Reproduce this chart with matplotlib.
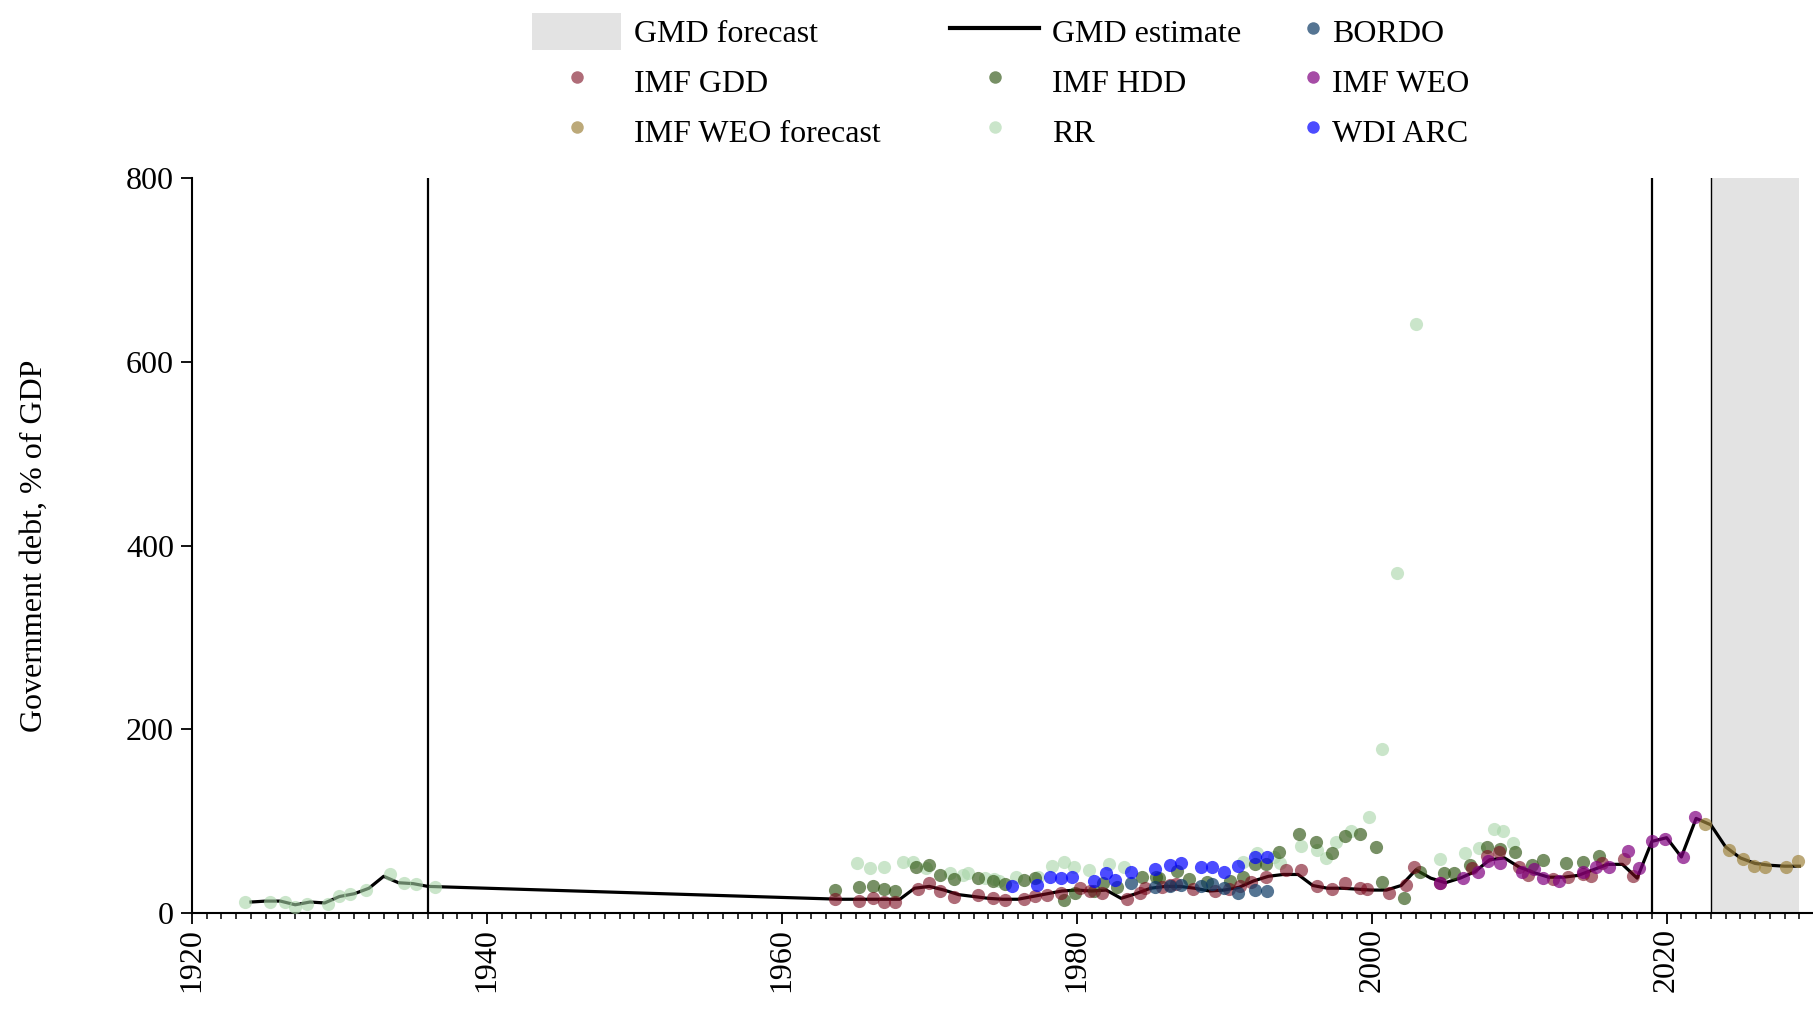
import matplotlib
matplotlib.use("Agg")
import matplotlib.pyplot as plt
from matplotlib.ticker import MultipleLocator
from matplotlib.patches import Patch
from matplotlib.lines import Line2D

plt.rcParams['font.family'] = ['Liberation Serif', 'DejaVu Serif']

# GMD estimate (line)
gmd_years = list(range(1924, 1937)) + list(range(1964, 2030))
gmd_vals = [12, 13, 13, 9, 12, 11, 18, 21, 27, 40, 33, 32, 29,
            15, 15, 15, 15, 15, 27, 29, 25, 20, 18, 16, 15, 15, 18, 21, 24,
            25, 24, 25, 16, 21, 27, 29, 29, 27, 24, 25, 28, 35, 40, 42, 42,
            30, 27, 27, 26, 25, 25, 30, 47, 38, 33, 38, 45, 58, 60, 50, 44,
            39, 39, 41, 47, 53, 53, 38, 78, 82, 61, 103, 96, 72, 60, 54, 52,
            51, 51]

# source points (x positions)
rr_x = [1923.6, 1925.3, 1926.3, 1927.0, 1927.8, 1929.2, 1930.0, 1930.7, 1931.8,
        1933.4, 1934.4, 1935.2, 1936.5,
        1965.1, 1966.0, 1966.9, 1968.2, 1968.9, 1969.8, 1971.4, 1972.3, 1972.6,
        1973.8, 1974.4, 1974.7, 1975.9, 1977.4, 1978.3, 1979.1, 1979.8, 1980.8,
        1982.2, 1983.2, 1991.3, 1992.2, 1993.4, 1993.8, 1995.2, 1996.3, 1996.9,
        1997.6, 1998.6, 1999.8, 2000.7, 2001.7, 2003.0, 2004.6, 2006.3, 2007.3,
        2008.3, 2008.9, 2009.6]
rr_v = [11.6, 12.3, 12.3, 6.9, 9.4, 9.4, 18.9, 20.3, 25, 42.4, 32.3, 31.2, 28,
        54.4, 48.6, 49.7, 55.5, 55.5, 48.6, 43.9, 41.3, 43.1, 37.7, 36.6, 35.2,
        39.5, 39.5, 51.1, 55.8, 50.4, 46.8, 52.9, 49.7, 55.8, 64.9, 61.3, 54.0,
        72.9, 68.5, 59.5, 77.7, 89.6, 104.2, 178.2, 370.4, 640.7, 58.5, 65.0,
        70.4, 91.5, 89.3, 75.9]

hdd_x = [1963.6, 1965.2, 1966.2, 1966.9, 1967.7, 1969.1, 1970.0, 1970.7, 1971.7,
         1973.3, 1974.3, 1975.1, 1976.4, 1977.2, 1979.1, 1979.9, 1981.2, 1981.8,
         1982.7, 1984.4, 1985.4, 1985.6, 1986.8, 1987.6, 1988.8, 1990.4, 1991.3,
         1992.1, 1992.8, 1993.7, 1995.1, 1996.2, 1997.3, 1998.2, 1999.2, 2000.3,
         2000.7, 2002.2, 2003.3, 2004.9, 2005.6, 2006.7, 2007.8, 2008.7, 2009.7,
         2010.9, 2011.6, 2013.2, 2014.3, 2015.4]
hdd_v = [24.6, 28.3, 29.7, 25.7, 24.3, 49.7, 52.6, 41.3, 36.6, 37.7, 35.2, 31.5,
         35.9, 37.7, 14.1, 21.4, 24.3, 32.3, 28.6, 38.8, 39.5, 38.1, 45.7, 36.6,
         34.1, 35.2, 39.5, 53.3, 53.3, 66.7, 86.0, 77.0, 65.0, 83.8, 86.0, 71.9,
         34.1, 16.0, 45.0, 43.9, 43.2, 52.3, 71.5, 69.7, 66.1, 51.9, 57.7, 54.1,
         55.9, 62.0]

gdd_x = [1963.6, 1965.2, 1966.2, 1966.9, 1967.7, 1969.2, 1970.0, 1970.7, 1971.7,
         1973.3, 1974.3, 1975.1, 1976.4, 1977.2, 1978.0, 1978.9, 1980.2, 1980.9,
         1981.7, 1983.4, 1984.3, 1984.6, 1985.8, 1986.3, 1986.7, 1987.9, 1989.4,
         1990.3, 1991.1, 1991.8, 1992.8, 1994.2, 1995.2, 1996.3, 1997.3, 1998.2,
         1999.2, 1999.7, 2001.2, 2002.3, 2002.9, 2004.6, 2006.8, 2007.8, 2008.6,
         2010.0, 2010.6, 2012.3, 2013.3, 2014.3, 2014.9, 2015.6, 2017.1, 2017.7]
gdd_v = [14.8, 13.0, 16.3, 11.9, 11.9, 26.1, 33.0, 23.6, 17.4, 19.2, 16.7, 13.8,
         14.8, 18.1, 19.6, 21.4, 26.8, 23.9, 21.4, 14.8, 21.4, 26.8, 28.6, 30.1,
         31.5, 25.7, 23.6, 25.7, 29.4, 33.7, 39.5, 46.8, 46.8, 29.4, 25.8, 32.3,
         27.6, 25.8, 21.4, 30.5, 50.5, 32.3, 48.7, 62.1, 66.1, 50.5, 41.4, 36.7,
         39.5, 42.5, 40.3, 54.1, 58.4, 40.3]

bordo_x = [1983.7, 1985.3, 1986.3, 1987.1, 1988.4, 1989.2, 1990.0, 1990.9, 1992.1, 1992.9]
bordo_v = [33.0, 28.6, 29.4, 30.0, 29.4, 31.5, 26.8, 22.1, 25.0, 23.9]

wdi_x = [1975.6, 1977.3, 1978.2, 1978.9, 1979.7, 1981.2, 1982.0, 1982.6, 1983.7,
         1985.3, 1986.3, 1987.1, 1988.4, 1989.2, 1990.0, 1990.9, 1992.1, 1992.9]
wdi_v = [29.4, 30.5, 39.5, 37.7, 38.8, 35.2, 43.1, 35.9, 44.2, 48.2, 51.9, 54.0,
         50.4, 49.7, 44.6, 51.1, 61.3, 61.3]

weo_x = [2004.6, 2006.2, 2007.2, 2007.9, 2008.7, 2010.2, 2011.0, 2011.6, 2012.7,
         2014.3, 2015.2, 2016.1, 2017.4, 2018.1, 2019.0, 2019.9, 2021.1, 2021.9]
weo_v = [32.3, 37.8, 45.0, 57.0, 54.8, 45.0, 47.9, 37.8, 34.9, 45.0, 50.4, 49.7,
         67.8, 48.6, 78.7, 80.5, 61.3, 104.9]

weof_x = [2022.6, 2024.2, 2025.2, 2025.9, 2026.7, 2028.1, 2028.9]
weof_v = [96.9, 68.6, 58.8, 51.2, 49.7, 50.4, 56.6]

c_gdd = '#7a0a1e'
c_hdd = '#2f5512'
c_rr = '#a8d5a8'
c_bordo = '#0d3b66'
c_wdi = '#0000ff'
c_weo = '#800080'
c_weof = '#a08540'

fig = plt.figure(figsize=(18.13, 10.18), dpi=100)
ax = fig.add_axes([0.1059, 0.1031, 0.8947, 0.7220])

ax.axvspan(2023, 2029, color='#e3e3e3', lw=0, zorder=0)
ax.axvline(1936, color='black', lw=1.6, zorder=1)
ax.axvline(2019, color='black', lw=1.6, zorder=1)
ax.axvline(2023, color='black', lw=1.0, zorder=1)

ax.plot(gmd_years, gmd_vals, color='black', lw=2.3, zorder=2)

s = 90
ax.scatter(rr_x, rr_v, s=s, color=c_rr, alpha=0.6, lw=0, zorder=3)
ax.scatter(hdd_x, hdd_v, s=s, color=c_hdd, alpha=0.65, lw=0, zorder=3)
ax.scatter(gdd_x, gdd_v, s=s, color=c_gdd, alpha=0.6, lw=0, zorder=3)
ax.scatter(bordo_x, bordo_v, s=s, color=c_bordo, alpha=0.7, lw=0, zorder=3)
ax.scatter(wdi_x, wdi_v, s=s, color=c_wdi, alpha=0.7, lw=0, zorder=3)
ax.scatter(weo_x, weo_v, s=s, color=c_weo, alpha=0.7, lw=0, zorder=3)
ax.scatter(weof_x, weof_v, s=s, color=c_weof, alpha=0.7, lw=0, zorder=3)

ax.set_xlim(1920, 2030)
ax.set_ylim(0, 800)
ax.set_yticks([0, 200, 400, 600, 800])
ax.set_xticks(range(1920, 2021, 20))
ax.xaxis.set_minor_locator(MultipleLocator(1))
ax.tick_params(axis='both', which='major', labelsize=23, length=8, width=1.3, direction='out')
ax.tick_params(axis='x', which='minor', length=4, width=1.1)
ax.tick_params(axis='x', labelrotation=90, pad=3)
ax.tick_params(axis='y', pad=5)
for side in ['top', 'right']:
    ax.spines[side].set_visible(False)
for side in ['left', 'bottom']:
    ax.spines[side].set_linewidth(1.5)

ax.set_ylabel('Government debt, % of GDP', fontsize=23)
ax.yaxis.set_label_coords(-0.088, 0.5)


def dot(color, alpha):
    return Line2D([], [], marker='o', ls='', markersize=9, markeredgewidth=0,
                  color=color, alpha=alpha)


leg_kw = dict(frameon=False, fontsize=23, borderpad=0, borderaxespad=0,
              handleheight=1.4, labelspacing=0.40, loc='upper left')

col1 = [Patch(facecolor='#e3e3e3', edgecolor='none'), dot(c_gdd, 0.6), dot(c_weof, 0.7)]
col2 = [Line2D([], [], color='black', lw=3), dot(c_hdd, 0.65), dot(c_rr, 0.6)]
col3 = [dot(c_bordo, 0.7), dot(c_weo, 0.7), dot(c_wdi, 0.7)]

l1 = fig.legend(col1, ['GMD forecast', 'IMF GDD', 'IMF WEO forecast'],
                bbox_to_anchor=(0.2934, 0.987), handlelength=2.8, handletextpad=0.4, **leg_kw)
l2 = fig.legend(col2, ['GMD estimate', 'IMF HDD', 'RR'],
                bbox_to_anchor=(0.524, 0.987), handlelength=2.8, handletextpad=0.4, **leg_kw)
l3 = fig.legend(col3, ['BORDO', 'IMF WEO', 'WDI ARC'],
                bbox_to_anchor=(0.7198, 0.987), handlelength=0.5, handletextpad=0.35, **leg_kw)

fig.savefig('out.png', dpi=100)
